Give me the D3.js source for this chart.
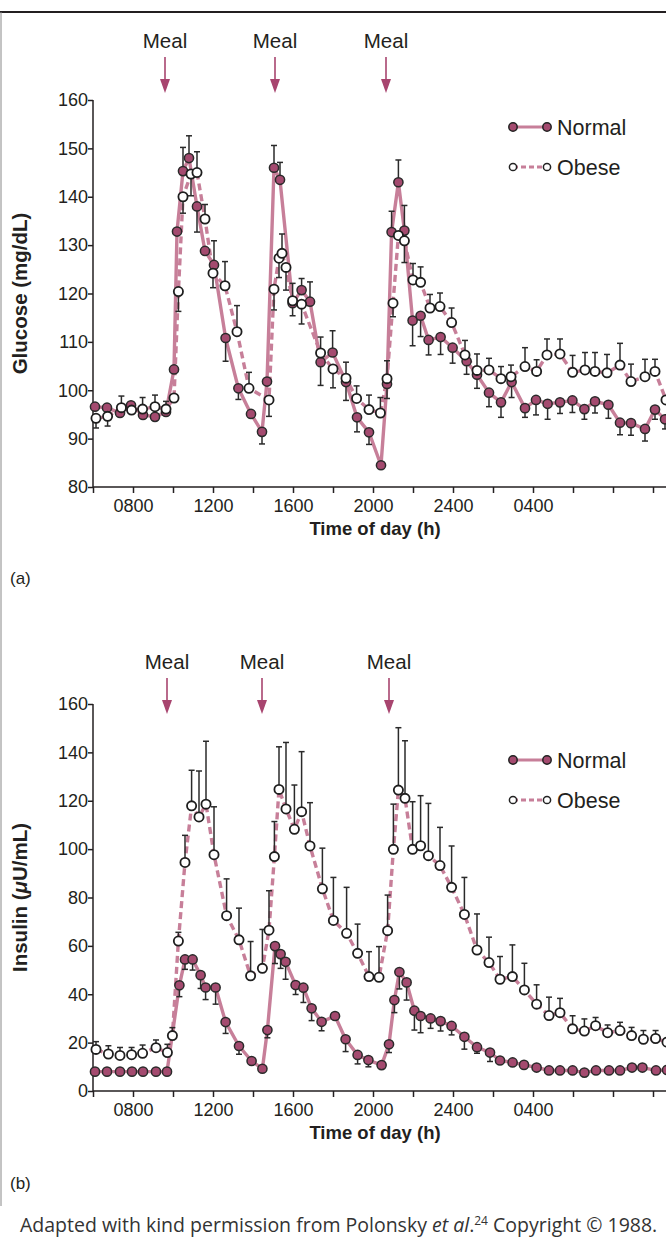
<!DOCTYPE html>
<html><head><meta charset="utf-8">
<script src="https://cdnjs.cloudflare.com/ajax/libs/d3/7.8.5/d3.min.js"></script>
<style>body{margin:0;background:#fff}svg{display:block}</style>
</head><body>
<script>
// ---------- DATA ----------
const tickHours = [8, 12, 16, 20, 24, 28];
const tickLabels = ["0800", "1200", "1600", "2000", "2400", "0400"];
const glucoseTicks = [80, 90, 100, 110, 120, 130, 140, 150, 160];
const insulinTicks = [0, 20, 40, 60, 80, 100, 120, 140, 160];
const seriesNames = ["Normal", "Obese"];
const mealTimesA = [9.6, 15.1, 20.65];
const mealTimesB = [9.7, 14.45, 20.8];

const glucoseNormalTime = [6.1,6.7,7.35,7.9,8.5,9.1,9.65,10.05,10.2,10.5,10.8,11.2,11.6,12.05,12.63,13.27,13.9,14.45,14.7,15.05,15.35,15.98,16.43,16.85,17.38,17.98,18.65,19.2,19.8,20.4,20.7,20.93,21.27,21.57,21.98,22.38,22.78,23.38,23.98,24.68,25.2,25.8,26.4,26.93,27.6,28.15,28.73,29.35,29.97,30.57,31.1,31.77,32.35,32.9,33.6,34.1,34.6];
const glucoseNormal = [96.6,96.4,95.3,96.9,94.9,94.5,95.5,104.3,132.8,145.3,148,138,128.8,125.9,110.8,100.4,95.1,91.4,101.8,146,143.5,118,120.7,118.3,105.8,107.8,101.7,94.4,91.3,84.5,101.3,132.7,143,133,114.4,115.4,110.4,111,108.8,106,103.2,99.5,97.5,101.7,96.3,98,97.2,97.5,97.9,96.1,97.7,97,93.3,93.2,92,96,94];
const glucoseNormalErr = [0,0,0,0,0,0,0,0,0,4.9,4.6,-5.3,0,5.0,-4.8,-2.3,0,-2.5,0,4.6,3.6,4.1,2.4,4.1,-4.8,4.5,-3.8,-3,-2.5,0,-3.0,4.3,4.6,5.2,-5.2,-4.3,-3.1,-3.6,-3.2,-2.7,-2.8,-2.9,-3.1,-3.2,-1.9,-3.1,-3.2,-2.3,-2.5,-2.1,-2.4,-2.8,-2.5,-2.5,-2.5,-2,-2];

const glucoseObeseTime = [6.15,6.73,7.42,7.93,8.48,9.1,9.65,10.05,10.27,10.5,10.9,11.2,11.6,12.0,12.6,13.2,13.8,14.8,15.05,15.3,15.45,15.65,15.98,16.43,17.38,18.0,18.65,19.18,19.8,20.37,20.7,21.0,21.27,21.57,22.0,22.38,22.85,23.35,23.93,24.6,25.2,25.8,26.4,26.9,27.6,28.18,28.7,29.35,29.98,30.6,31.1,31.7,32.35,32.9,33.6,34.1,34.65];
const glucoseObese = [94.2,94.6,96.4,95.9,96.1,96.6,96.1,98.4,120.4,140,144.7,145,135.4,124.2,121.6,112.1,100.4,98,120.9,127.3,128.3,125.4,118.5,117.8,107.7,104.4,102.5,98.3,96,95.3,102.4,118,132,130.9,122.8,122.3,117,117.3,114,107.3,104.1,104.2,102.4,102.8,104.9,103.9,107.3,107.5,103.7,104.2,103.9,103.6,105.2,101.8,102.8,103.9,98];
const glucoseObeseErr = [-2,-2,2.4,0,2.4,2.4,1.6,0,-4.1,-3.4,-4.5,4.3,3.0,-3.0,5.0,5.4,3.3,-3.4,-4.3,-4.0,4.0,-4.7,-3.1,-4.1,3.3,-3.9,3.3,2.6,3.0,3.2,3.7,-2.8,0,-4.5,3.4,3.2,2.8,2.8,3.0,3.0,3.4,2.4,2.5,2.4,3.9,2.4,3.3,3.1,3.5,3.6,3.9,3.8,4.5,3.6,3.6,2.5,0];

const insulinNormalTime = [6.1,6.7,7.35,7.95,8.5,9.15,9.7,10.32,10.6,10.98,11.38,11.63,12.13,12.63,13.3,13.93,14.47,14.72,15.1,15.38,15.63,16.13,16.52,16.93,17.43,18.1,18.63,19.23,19.77,20.43,20.8,21.07,21.32,21.68,22.07,22.38,22.88,23.38,23.93,24.57,25.2,25.85,26.35,26.98,27.55,28.18,28.8,29.35,29.98,30.57,31.15,31.8,32.35,32.95,33.47,34.15,34.7];
const insulinNormal = [8,8,8,8,8,8,8,43.7,54.4,54.4,47.9,42.8,42.8,28.5,18.6,12.4,9.2,25.2,59.9,56.6,53.4,43.8,42.7,34.2,28.6,31,21.4,14.9,12.8,10.7,19.3,37.6,49.2,44.9,33.2,31,30,28.9,26.9,22.4,18.1,15.9,12.6,11.8,10.8,9.7,8.5,8.5,8.5,7.6,8.5,8.5,8.5,9.7,9.7,8.5,8.7];
const insulinNormalErr = [0,0,0,0,0,0,0,-4.7,-4.1,-4.4,-5.5,-5,-6.9,-4.7,-3.4,0,0,-3.2,-7.2,-5.9,-7.2,-3.9,-6.1,-5.1,-3.7,0,-5.1,-3.7,-2.8,0,-3.4,-5.2,-7,-7.3,-8,-6.9,-4.1,-4.1,-3.7,-5.1,-2.5,-3.7,0,0,0,0,0,0,0,0,0,0,0,0,0,0,0];

const insulinObeseTime = [6.15,6.77,7.35,7.93,8.48,9.15,9.72,9.97,10.27,10.6,10.93,11.3,11.65,12.05,12.68,13.3,13.88,14.47,14.8,15.07,15.3,15.65,16.07,16.43,16.85,17.47,18.02,18.68,19.23,19.8,20.3,20.73,21.02,21.27,21.6,21.98,22.38,22.77,23.35,23.93,24.57,25.2,25.8,26.35,26.97,27.57,28.18,28.8,29.35,29.98,30.57,31.13,31.73,32.35,32.93,33.52,34.13,34.7];
const insulinObese = [17.2,15.3,14.7,15,15.6,17.9,15.9,22.9,62,94.5,117.9,113.3,118.6,97.7,72.5,62.5,47.6,50.7,66.5,96.9,124.7,116.6,108.2,115.5,101.3,83.6,70.5,65.2,56.9,47.3,47,66.3,99.9,124.4,121,99.9,101.4,97.3,93.2,84.2,73,58.3,53.1,46.2,47.3,41.8,35.9,31.2,32.4,25.7,24.8,27,24.1,25,22.9,21.4,21.7,20.2];
const insulinObeseErr = [3.2,3.4,3.3,3,3.4,3.2,3.4,3.3,3.6,11.2,14.7,19,26,19.8,15.2,13.1,14.2,16.1,16.3,14.5,17.6,27.5,18.3,24.8,17.9,16.8,17.8,19,12.1,10.3,12.7,14.7,18.7,25.8,23.8,19.7,20.7,21.6,15.8,17.1,15.3,14.9,10.5,9.4,13.1,11,8,7.6,5.9,5.4,5,3.4,3.2,3.4,3.4,3.6,3.3,0];

// ---------- STYLE ----------
const W = 666, H = 1248;
const lineCol = "#c77f99", markCol = "#a44a6f", arrowCol = "#a8456f", ink = "#231f20";
const font = "'Liberation Sans', Arial, sans-serif";

const svg = d3.select("body").append("svg").attr("width", W).attr("height", H)
  .style("font-family", font);
svg.append("rect").attr("width", W).attr("height", H).attr("fill", "#fff");

// frame
svg.append("line").attr("x1", 0).attr("x2", W).attr("y1", 12).attr("y2", 12).attr("stroke", ink).attr("stroke-width", 2);
svg.append("line").attr("x1", 1).attr("x2", 1).attr("y1", 12).attr("y2", 1206).attr("stroke", "#888").attr("stroke-width", 1);

const x = d3.scaleLinear().domain([6, 34.65]).range([93, 666]);

function zip(t, v, e) { return t.map((d, i) => ({ t: d, v: v[i], e: e[i] })); }

function panel(cfg) {
  const g = svg.append("g");
  const y = cfg.y;
  // axes
  const xAxis = d3.axisBottom(x).tickValues(d3.range(6, 35, 2)).tickSize(6)
    .tickFormat(d => { const i = tickHours.indexOf(d); return i >= 0 ? tickLabels[i] : ""; });
  const ax = g.append("g").attr("transform", `translate(0,${y.range()[0]})`).call(xAxis);
  ax.select(".domain").attr("d", `M93,0H${W}`);
  const yAxis = d3.axisLeft(y).tickValues(cfg.ticks).tickSize(5);
  const ay = g.append("g").attr("transform", "translate(93,0)").call(yAxis);
  ay.select(".domain").attr("d", `M0,${y.range()[0]}V${y.range()[1]}`);
  [ax, ay].forEach(a => {
    a.selectAll(".domain, .tick line").attr("stroke", ink).attr("stroke-width", 1.5);
    a.selectAll("text").attr("fill", ink).style("font-size", "18px").style("font-family", font);
  });
  ax.selectAll("text").attr("dy", "1em").attr("y", 7);
  ay.selectAll("text").attr("x", -5);

  // axis titles
  g.append("text").attr("x", 375).attr("y", y.range()[0] + 48).attr("text-anchor", "middle")
    .style("font-weight", "bold").style("font-size", "18.5px").attr("fill", ink).text("Time of day (h)");
  const yt = g.append("text").attr("transform", `translate(27,${(y.range()[0] + y.range()[1]) / 2}) rotate(-90)`)
    .attr("text-anchor", "middle").style("font-weight", "bold").style("font-size", "20.5px").attr("fill", ink);
  cfg.title(yt);

  // meal arrows
  cfg.meals.forEach(m => {
    const mx = x(m);
    g.append("text").attr("x", mx).attr("y", cfg.mealY).attr("text-anchor", "middle")
      .style("font-size", "20.5px").attr("fill", ink).text("Meal");
    g.append("line").attr("x1", mx).attr("x2", mx).attr("y1", cfg.mealY + 9).attr("y2", cfg.mealY + 38)
      .attr("stroke", arrowCol).attr("stroke-width", 1.6);
    g.append("path").attr("d", `M${mx - 5},${cfg.mealY + 31}L${mx + 5},${cfg.mealY + 31}L${mx},${cfg.mealY + 45}Z`).attr("fill", arrowCol);
  });

  const clip = g.append("g");
  const nData = zip(cfg.nt, cfg.nv, cfg.ne), oData = zip(cfg.ot, cfg.ov, cfg.oe);
  const line = d3.line().x(d => x(d.t)).y(d => y(d.v));
  clip.append("path").datum(nData).attr("d", line).attr("fill", "none").attr("stroke", lineCol).attr("stroke-width", 3.4).attr("stroke-linejoin", "round");
  clip.append("path").datum(oData).attr("d", line).attr("fill", "none").attr("stroke", lineCol).attr("stroke-width", 3.4).attr("stroke-dasharray", "7,4");

  // error bars
  const eb = clip.append("g").attr("stroke", "#2a2a2a").attr("stroke-width", 1.5);
  nData.concat(oData).filter(d => d.e !== 0).forEach(d => {
    const xx = x(d.t), y0 = y(d.v), y1 = y(d.v + d.e);
    eb.append("line").attr("x1", xx).attr("x2", xx).attr("y1", y0).attr("y2", y1);
    eb.append("line").attr("x1", xx - 3).attr("x2", xx + 3).attr("y1", y1).attr("y2", y1);
  });

  clip.selectAll(".nm").data(nData).join("circle").attr("cx", d => x(d.t)).attr("cy", d => y(d.v))
    .attr("r", 4.6).attr("fill", markCol).attr("stroke", "#2a2a2a").attr("stroke-width", 1.5);
  clip.selectAll(".om").data(oData).join("circle").attr("cx", d => x(d.t)).attr("cy", d => y(d.v))
    .attr("r", 4.6).attr("fill", "#fff").attr("stroke", "#1e1e1e").attr("stroke-width", 1.8);

  // legend
  const lg = g.append("g");
  seriesNames.forEach((name, i) => {
    const ly = cfg.legY + i * 40;
    lg.append("line").attr("x1", 513).attr("x2", 547).attr("y1", ly).attr("y2", ly)
      .attr("stroke", lineCol).attr("stroke-width", 3).attr("stroke-dasharray", i ? "5,3" : null);
    [513, 547].forEach(cx => lg.append("circle").attr("cx", cx).attr("cy", ly).attr("r", i ? 3.6 : 4.2)
      .attr("fill", i ? "#fff" : markCol).attr("stroke", "#222").attr("stroke-width", 1.5));
    lg.append("text").attr("x", 557).attr("y", ly + 7.5).style("font-size", "21.5px").attr("fill", ink).text(name);
  });
  svg.append("text").attr("x", 10).attr("y", cfg.tagY).style("font-size", "17px").attr("fill", ink).text(cfg.tag);
}

panel({
  y: d3.scaleLinear().domain([80, 160]).range([487, 100]), ticks: glucoseTicks,
  title: t => t.text("Glucose (mg/dL)"),
  meals: mealTimesA, mealY: 48, legY: 127, tagY: 584, tag: "(a)",
  nt: glucoseNormalTime, nv: glucoseNormal, ne: glucoseNormalErr,
  ot: glucoseObeseTime, ov: glucoseObese, oe: glucoseObeseErr
});
panel({
  y: d3.scaleLinear().domain([0, 160]).range([1091, 704]), ticks: insulinTicks,
  title: t => { t.append("tspan").text("Insulin ("); t.append("tspan").style("font-style", "italic").text("μ"); t.append("tspan").text("U/mL)"); },
  meals: mealTimesB, mealY: 669, legY: 760, tagY: 1189, tag: "(b)",
  nt: insulinNormalTime, nv: insulinNormal, ne: insulinNormalErr,
  ot: insulinObeseTime, ov: insulinObese, oe: insulinObeseErr
});

// footer
const ft = svg.append("text").attr("x", 20).attr("y", 1232).style("font-family", "'Open Sans', sans-serif")
  .style("font-size", "19.5px").attr("fill", "#333");
ft.append("tspan").text("Adapted with kind permission from Polonsky ");
ft.append("tspan").style("font-style", "italic").text("et al");
ft.append("tspan").text(".");
ft.append("tspan").attr("dy", -7).style("font-size", "12px").text("24");
ft.append("tspan").attr("dy", 7).text(" Copyright © 1988.");
</script>
</body></html>
